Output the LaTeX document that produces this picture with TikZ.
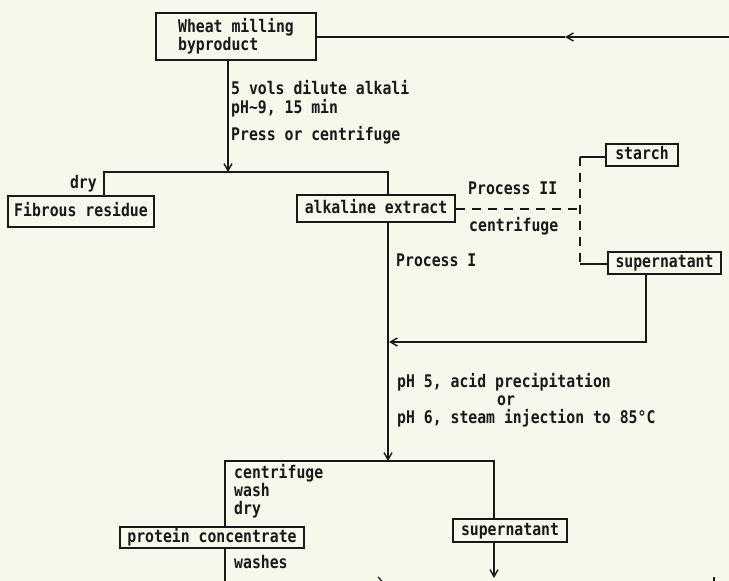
\documentclass[tikz,border=0pt]{standalone}
\usepackage{fontspec}
\newfontfamily\lgfont{DejaVu Sans Mono}[FakeStretch=0.85]
\usetikzlibrary{arrows.meta}
\definecolor{bg}{RGB}{247,247,236}
\definecolor{ink}{RGB}{25,25,25}
\begin{document}
\begin{tikzpicture}[x=1pt,y=-1pt,
  txt/.style={font=\lgfont\bfseries\fontsize{17.4}{18}\selectfont, text=ink},
  box/.style={txt, draw=ink, line width=1.3pt, inner sep=0pt, text height=9.5pt, text depth=0pt},
  lbl/.style={txt, inner sep=0pt, anchor=west, text height=9.5pt, text depth=0pt},
  ln/.style={draw=ink, line width=1.3pt},
  dsh/.style={ln, dash pattern=on 9pt off 7pt},
  arr/.style={ln, -{Straight Barb[length=7pt,width=8pt,line width=1.4pt]}}]
\fill[bg] (0,0) rectangle (729,581);
\useasboundingbox (0,0) rectangle (729,581);

% boxes
\node[txt, draw=ink, line width=1.3pt, inner sep=0pt, minimum width=160pt, minimum height=47pt, align=left] (wheat) at (236,36.5) {Wheat milling\\byproduct};
\node[box, minimum width=146pt, minimum height=31pt] (fib) at (81,211.5) {Fibrous residue};
\node[box, minimum width=158pt, minimum height=27pt] (alk) at (376,208.5) {alkaline extract};
\node[box, minimum width=72pt, minimum height=22pt] (starch) at (642,155) {starch};
\node[box, minimum width=113pt, minimum height=22pt] (sup1) at (664.5,263) {supernatant};
\node[box, minimum width=184pt, minimum height=21pt] (prot) at (212,537.5) {protein concentrate};
\node[box, minimum width=114pt, minimum height=23pt] (sup2) at (510,530.5) {supernatant};

% labels
\node[lbl] (l1) at (231,90) {5 vols dilute alkali};
\node[lbl] (l2) at (231,109) {pH\char"007E 9, 15 min};
\node[lbl] (l3) at (231,136) {Press or centrifuge};
\node[lbl, anchor=east] (l4) at (97,184) {dry};
\node[lbl] (l5) at (468,190) {Process II};
\node[lbl] (l6) at (469,227) {centrifuge};
\node[lbl] (l7) at (396,262) {Process I};
\node[lbl] (l8) at (397,383) {pH 5, acid precipitation};
\node[lbl, anchor=center] (l9) at (506,401) {or};
\node[lbl] (l10) at (397,419) {pH 6, steam injection to 85°C};
\node[lbl] (l11) at (234,474) {centrifuge};
\node[lbl] (l12) at (234,492) {wash};
\node[lbl] (l13) at (234,510) {dry};
\node[lbl] (l14) at (234,564) {washes};

% top return line
\coordinate (rt) at (729,37);
\coordinate (am) at (565,37);
\draw[arr] (rt) -- (am);
\draw[ln] (am) -- (wheat.east |- am);

% first split
\coordinate (b1) at (228,172);
\coordinate (b1l) at (104,172);
\coordinate (b1r) at (388,172);
\draw[arr] (wheat.south -| b1) -- (b1);
\draw[ln] (fib.north -| b1l) -- (b1l) -- (b1r) -- (alk.north -| b1r);

% process II
\coordinate (d1) at (580,209);
\coordinate (d2) at (580,157);
\coordinate (d3) at (580,264);
\draw[dsh] (alk.east |- d1) -- (d1);
\draw[dsh] (d2) -- (d3);
\draw[ln] (d2) -- (starch.west |- d2);
\draw[ln] (d3) -- (sup1.west |- d3);

% main line
\coordinate (b2) at (388,461);
\draw[arr] (alk.south -| b2) -- (b2);
\coordinate (r1) at (646,342);
\coordinate (r2) at (389,342);
\draw[arr] (sup1.south -| r1) -- (r1) -- (r2);

% second split
\coordinate (b2l) at (225,461);
\coordinate (b2r) at (494,461);
\draw[ln] (prot.north -| b2l) -- (b2l) -- (b2r) -- (sup2.north -| b2r);
\coordinate (bot) at (225,581);
\draw[ln] (prot.south -| bot) -- (bot);
\coordinate (bot2) at (494,578);
\draw[arr] (sup2.south -| bot2) -- (bot2);

% fragments cut by the page edge
\begin{scope}
\clip (0,0) rectangle (729,581);
\coordinate (fa) at (225,586);
\coordinate (fb) at (387,586);
\draw[ln, -{Straight Barb[length=8pt,width=18pt,line width=1.3pt]}] (fa) -- (fb);
\coordinate (fc) at (714,577);
\coordinate (fd) at (714,590);
\draw[ln] (fc) -- (fd);
\end{scope}
\end{tikzpicture}
\end{document}
